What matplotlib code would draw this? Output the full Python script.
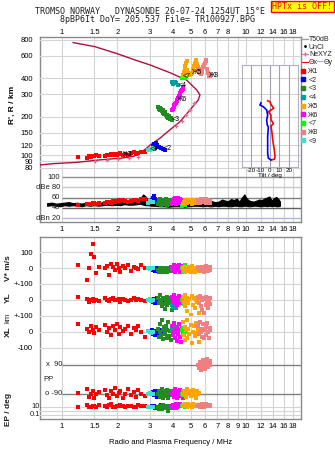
import matplotlib
matplotlib.use("Agg")
import matplotlib.pyplot as plt
import matplotlib.transforms as mtransforms
from matplotlib.lines import Line2D

plt.rcParams['font.family'] = ['Liberation Sans', 'DejaVu Sans']
plt.rcParams['font.size'] = 5.5
plt.rcParams['text.color'] = '#202020'

# ---------------- data ----------------
top_ticks = [1, 1.5, 2, 3, 4, 5, 6, 7, 8, 10, 12, 14, 16, 18]
bot_ticks = [1, 1.5, 2, 3, 4, 5, 6, 7, 8, 9, 10, 12, 14, 16, 18]
height_ticks = [80, 90, 100, 120, 150, 200, 300, 400, 600, 800]

# electron density profile (plasma frequency vs real height)
ne_f = [0.76, 0.90, 1.20, 1.60, 2.10, 2.45, 2.65, 2.85, 3.01, 3.41, 3.86, 4.38,
        4.96, 5.50, 5.62, 5.40, 4.76, 3.86, 3.01, 2.49, 2.02, 1.51, 1.15]
ne_h = [84, 86, 88, 92, 95, 98, 104, 112, 120, 136, 158, 183,
        226, 270, 296, 324, 387, 442, 508, 556, 619, 706, 760]
nx_f = [1.51, 1.75, 2.02, 2.32, 2.60, 4.17, 4.47, 4.72, 4.96, 5.20]
nx_h = [91, 92, 94, 96, 97, 169, 186, 206, 226, 255]

# tilt inset
tilt_h_x = [92, 93, 97, 110, 132, 153, 170, 176, 180, 190, 206, 219, 233, 250, 262, 267]
tilt_x = [1.0, 4.6, 5.4, 4.6, 2.9, 2.0, 1.0, 3.6, 3.0, 1.0, 1.0, -1.8, 4.0, 1.0, 0.0, -2.5]
tilt_h_y = [92, 95, 104, 140, 167, 172, 188, 206, 226, 240, 247, 257]
tilt_y = [1.0, -1.8, -2.5, -2.5, -1.8, -2.9, -3.6, -2.5, -3.6, -7.2, -10.8, -9.7]

# noise floor (dB)
nf = [0.83, 0.88, 0.93, 0.98, 1.03, 1.09, 1.15, 1.21, 1.28, 1.35,
      1.42, 1.50, 1.58, 1.67, 1.76, 1.86, 1.96, 2.07, 2.18, 2.30,
      2.43, 2.56, 2.66, 2.76, 2.85, 2.95, 3.05, 3.20, 3.40, 3.60,
      3.80, 4.00, 4.30, 4.60, 4.90, 5.20, 5.50, 5.80, 6.10, 6.30,
      6.50, 6.80, 7.10, 7.40, 7.70, 8.00, 8.30, 8.60, 8.90, 9.20,
      9.50, 9.80, 10.0, 10.3, 10.6, 11.0, 11.4, 11.8, 12.2, 12.6,
      13.0, 13.4, 13.8, 14.2, 14.6, 15.0, 15.3]
nlo = [44, 45, 44, 43, 45, 44, 45, 44, 43, 45,
       44, 45, 44, 45, 46, 45, 46, 45, 47, 46,
       46, 47, 48, 46, 45, 45, 44, 44, 43, 43,
       42, 43, 43, 42, 43, 44, 44, 43, 44, 43,
       43, 44, 43, 44, 44, 43, 43, 44, 44, 43,
       43, 44, 44, 43, 43, 44, 44, 43, 43, 44,
       43, 44, 43, 44, 43, 43, 44]
nhi = [49, 50, 48, 49, 50, 51, 49, 50, 48, 50,
       51, 50, 49, 51, 52, 50, 53, 51, 54, 52,
       53, 55, 58, 66, 62, 52, 55, 50, 51, 52,
       53, 52, 50, 51, 50, 49, 51, 50, 52, 55,
       53, 51, 52, 56, 54, 53, 57, 55, 58, 52,
       60, 66, 60, 55, 53, 52, 54, 56, 55, 58,
       60, 62, 54, 59, 61, 57, 52]

# echo classes: freq, height, amplitude, V*, YL, XL, PP, EP
f1 = [1.23, 1.37, 1.40, 1.44, 1.48, 1.50, 1.53, 1.58, 1.72, 1.76, 1.80, 1.85, 1.90,
      1.95, 2.00, 2.04, 2.08, 2.14, 2.20, 2.28, 2.38, 2.45, 2.52, 2.60, 2.70, 2.82]
h1 = [97, 96, 98, 97, 99, 98, 100, 99, 99, 101, 100, 102, 101,
      103, 100, 102, 104, 101, 103, 100, 104, 106, 103, 105, 107, 106]
a1 = [46, 47, 48, 47, 49, 50, 48, 49, 50, 51, 52, 50, 53,
      52, 54, 55, 53, 56, 54, 52, 53, 55, 56, 54, 57, 58]
v1 = [20, -75, 5, 90, 150, 70, -30, 10, 0, 15, -40, 25, 10,
      -10, 30, 5, -25, 15, 0, 20, -15, 10, 5, -5, 20, 0]
yl1 = [17, 5, -10, 0, 8, -5, 3, -8, 10, 0, -5, 5, 12,
       -3, 0, 8, -10, 5, 0, -5, 3, 10, -2, 5, 0, -8]
xl1 = [48, 20, 0, 35, 10, -5, 30, 15, 45, 0, 25, -20, 35,
       10, 50, -10, 30, 5, 20, 40, -15, 25, 10, 35, 0, -30]
pp1 = [-85, -60, -110, -90, -70, -120, -95, -80, -65, -100, -115, -75, -90,
       -55, -105, -85, -70, -120, -95, -60, -100, -80, -110, -65, -90, -105]
ep1 = [10, 30, 8, 12, 15, 20, 10, 40, 15, 9, 25, 50, 12,
       10, 14, 18, 30, 14, 10, 16, 20, 9, 12, 35, 16, 22]

f2 = [3.08, 3.12, 3.16, 3.20, 3.25, 3.30, 3.38, 3.45, 3.55, 3.65]
h2 = [112, 118, 122, 115, 125, 120, 116, 114, 112, 110]
a2 = [55, 60, 62, 58, 54, 56, 52, 50, 48, 47]
v2 = [0, -10, 5, -15, -5, 0, -20, -10, -5, 0]
yl2 = [0, -15, 5, -20, -10, 10, -5, 0, -15, 5]
xl2 = [10, -15, 0, -20, 5, -10, 15, 0, -5, 10]
pp2 = [-90, -80, -100, -70, -95, -110, -85, -90, -75, -100]
ep2 = [15, 8, 20, 5, 10, 12, 6, 25, 9, 7]

f9 = [2.92, 3.00, 3.06, 3.12]
h9 = [109, 110, 112, 114]
a9 = [50, 54, 52, 51]
v9 = [0, -5, 5, 0]
yl9 = [0, 5, -5, 0]
xl9 = [5, 0, -5, 0]
pp9 = [-90, -85, -95, -90]
ep9 = [10, 8, 12, 10]

f3 = [3.32, 3.36, 3.40, 3.42, 3.46, 3.50, 3.52, 3.56, 3.60,
      3.62, 3.66, 3.70, 3.74, 3.78, 3.82, 3.86, 3.90, 3.95]
h3 = [240, 232, 236, 225, 228, 220, 226, 215, 210,
      218, 205, 208, 200, 196, 202, 192, 197, 190]
a3 = [48, 55, 50, 58, 46, 52, 56, 49, 54, 47, 57, 51, 45, 53, 50, 56, 48, 52]
v3 = [-10, -20, 0, -15, -25, -5, -10, -20, 5, -15, -10, 0, -20, -5, -15, -10, 10, -5]
yl3 = [10, -20, 30, -10, 0, -40, 15, -25, 5, -55, -10, 20, -30, 0, -15, 10, -20, -60]
xl3 = [20, -30, 50, 0, -20, 75, -45, 10, 30, -10, 40, -35, 15, 60, -25, 5, -50, 25]
pp3 = [-90, -70, -110, -80, -100, -60, -95, -120, -85, -75, -105, -90, -65, -115, -80, -100, -70, -95]
ep3 = [10, 4, 20, 8, 15, 3, 12, 30, 6, 10, 5, 18, 9, 1, 7, 14, 11, 6]

f4 = [3.95, 4.02, 4.10, 4.18, 4.28]
h4 = [372, 360, 376, 365, 352]
a4 = [50, 54, 52, 48, 55]
v4 = [5, -10, 0, 15, -5]
yl4 = [-30, -45, -35, -50, -20]
xl4 = [10, -20, 30, 0, -10]
pp4 = [-90, -80, -100, -85, -95]
ep4 = [10, 8, 12, 6, 15]

f6 = [3.96, 4.00, 4.04, 4.08, 4.12, 4.16, 4.20, 4.24,
      4.28, 4.32, 4.36, 4.40, 4.44, 4.48, 4.52, 4.56]
h6 = [226, 232, 240, 246, 252, 258, 266, 272, 280, 290, 298, 306, 316, 324, 332, 342]
a6 = [50, 55, 58, 52, 60, 48, 56, 53, 59, 50, 54, 57, 49, 52, 55, 47]
v6 = [10, -15, 20, 0, -25, 5, 15, -10, 0, 20, -20, 10, -5, 15, -15, 5]
yl6 = [20, -10, 30, 0, -25, 10, -30, 15, -5, 25, -15, 5, -20, 10, 0, -10]
xl6 = [40, -20, 55, 0, -40, 20, -55, 30, -10, 50, -30, 10, -60, 25, -5, 15]
pp6 = [-90, -70, -110, -85, -60, -100, -80, -120, -90, -75, -95, -65, -105, -85, -115, -90]
ep6 = [20, 40, 10, 30, 15, 50, 25, 12, 35, 18, 45, 22, 14, 28, 16, 30]

f7 = [4.48, 4.52, 4.56, 4.60, 4.64]
h7 = [405, 415, 425, 435, 400]
a7 = [44, 46, 45, 47, 45]
v7 = [0, -20, 10, -10, 20]
yl7 = [0, -15, 10, -25, 5]
xl7 = [10, -20, 25, -10, 0]
pp7 = [-90, -75, -100, -85, -95]
ep7 = [20, 30, 15, 25, 12]

f5 = [4.55, 4.60, 4.64, 4.68, 4.72, 4.76, 4.80, 4.86, 4.92,
      5.00, 5.10, 5.18, 5.24, 5.30, 5.36, 5.42, 5.48, 5.54]
h5 = [420, 445, 470, 500, 530, 550, 460, 440, 425,
      430, 440, 470, 500, 530, 560, 520, 490, 450]
a5 = [48, 52, 55, 50, 53, 56, 49, 54, 51, 55, 48, 52, 56, 50, 54, 49, 53, 51]
v5 = [0, -10, 10, -20, 5, -15, 0, 10, -5, -20, 15, -10, 0, -25, 5, -15, 10, -5]
yl5 = [20, -10, 30, -40, 0, -70, 15, -20, 5, -95, 25, -30, 10, -50, 0, -15, 20, -80]
xl5 = [60, -20, 30, -50, 10, 75, -40, 20, -10, 45, -70, 0, 35, -25, 55, -5, 15, -60]
pp5 = [-90, -70, -100, -80, -110, -60, -95, -85, -75, -105, -90, -65, -100, -80, -115, -70, -95, -85]
ep5 = [30, 15, 50, 20, 40, 10, 25, 60, 18, 35, 12, 45, 22, 30, 14, 40, 20, 28]

f8 = [5.50, 5.56, 5.62, 5.68, 5.74, 5.80, 5.86, 5.92,
      5.98, 6.04, 6.10, 6.16, 6.22, 6.28, 6.34, 6.40]
h8 = [470, 455, 440, 430, 450, 470, 490, 510, 530, 545, 560, 470, 440, 420, 415, 430]
a8 = [52, 55, 50, 57, 53, 58, 51, 56, 54, 50, 57, 53, 55, 52, 49, 54]
v8 = [0, -10, 5, -15, 10, -5, 0, -20, 5, -10, 15, -5, -15, 0, 10, -10]
yl8 = [10, -20, 25, -40, 0, -60, 15, -80, 5, -30, 20, -10, -50, 0, -25, 10]
xl8 = [40, -10, 60, 0, -30, 20, 50, -40, 10, 30, -20, 55, 0, -35, 25, 15]
pp8 = [90, 70, 110, 60, 100, 80, 120, 95, 65, 105, 85, 130, 75, 100, 90, 115]
ep8 = [20, 40, 10, 30, 15, 50, 25, 12, 35, 18, 45, 22, 14, 28, 16, 30]

class_names = ['Ж1', '<2', '<3', '<4', 'Ж5', 'Ж6', '<7', 'Ж8', '<9']
class_colors = ['#ff0000', '#0000ff', '#228b22', '#00a0a0', '#ffa500',
                '#ff00ff', '#00ff00', '#f08080', '#40e0d0']

# ---------------- figure ----------------
W, H = 335, 451
fig = plt.figure(figsize=(W / 100, H / 100), dpi=100)


def rect(x0, y0, x1, y1):
    return [x0 / W, 1 - y1 / H, (x1 - x0) / W, (y1 - y0) / H]


def lin_lims(va, pa, vb, pb, top, bot):
    s = (vb - va) / (pb - pa)
    return va + s * (bot - pa), va + s * (top - pa)


XL0, XL1 = 0.76, 19.9
GRID = '#d4d4d4'
SPINE = '#8a8a8a'


def frame(ax):
    ax.set_xscale('log')
    ax.set_xlim(XL0, XL1)
    ax.set_yticks([])
    ax.xaxis.set_minor_locator(matplotlib.ticker.NullLocator())
    ax.set_xticks(bot_ticks)
    ax.set_xticklabels([str(t) for t in bot_ticks])
    ax.tick_params(axis='x', length=0, pad=3, labelsize=5.5)
    for t in bot_ticks:
        ax.axvline(t, color=GRID, lw=0.8, zorder=0)
    for s in ax.spines.values():
        s.set_color(SPINE)
        s.set_linewidth(1)


# top frame (ionogram + amplitude)
ax_top = fig.add_axes(rect(40, 37, 301, 222))
frame(ax_top)

ax_ion = fig.add_axes(rect(40, 37, 301, 172), label='ion')
ax_ion.set_facecolor('none')
ax_ion.set_xscale('log')
ax_ion.set_yscale('log')
ax_ion.set_xlim(XL0, XL1)
ax_ion.set_ylim(74, 840)
for s in ax_ion.spines.values():
    s.set_visible(False)
ax_ion.xaxis.tick_top()
ax_ion.set_xticks(top_ticks)
ax_ion.set_xticklabels([str(t) for t in top_ticks])
ax_ion.xaxis.set_minor_locator(matplotlib.ticker.NullLocator())
ax_ion.yaxis.set_minor_locator(matplotlib.ticker.NullLocator())
ax_ion.set_yticks(height_ticks)
ax_ion.set_yticklabels([str(t) for t in height_ticks])
ax_ion.tick_params(length=0, labelsize=5.5)
ax_ion.tick_params(axis='x', pad=1)
ax_ion.tick_params(axis='y', pad=5)
for t in height_ticks:
    ax_ion.axhline(t, color=GRID, lw=0.8, zorder=0)
ax_ion.set_ylabel("R', R / km", fontweight='bold', fontsize=6, labelpad=3)

ax_ion.plot(ne_f, ne_h, color='#b0103c', lw=1.0, zorder=3)
ax_ion.plot(nx_f, nx_h, '+', color='#e0709a', ms=3.5, mew=0.9, zorder=3)

ax_dbe = fig.add_axes(rect(40, 172, 301, 222), label='dbe', sharex=ax_ion)
ax_dbe.set_facecolor('none')
ax_dbe.set_ylim(12.2, 109.8)
ax_dbe.axis('off')
for lvl, col in [(100, '#909090'), (80, '#c8c8c8'), (60, '#808080'), (40, '#606060'), (20, '#b4b4e6')]:
    ax_dbe.hlines(lvl, 1, XL1, color=col, lw=1, zorder=1)
for lvl, txt in [(100, '100'), (80, 'dBe 80'), (60, '60'), (40, '40'), (20, 'dBn 20')]:
    ax_dbe.text(0.975, lvl, txt, ha='right', va='center', fontsize=5.5)
ax_dbe.fill_between(nf, nlo, nhi, color='black', lw=0.8, edgecolor='black', zorder=2)

# bottom frame (Doppler / location / polarisation)
ax_bot = fig.add_axes(rect(40, 237, 301, 419), label='bot')
frame(ax_bot)
ax_bot.set_xlabel('Radio and Plasma Frequency / MHz', fontsize=5.5, labelpad=6)

BT, BB = 237, 419


def band(lims, name, log=False):
    a = fig.add_axes(rect(40, BT, 301, BB), label=name, sharex=ax_bot)
    a.set_facecolor('none')
    for s in a.spines.values():
        s.set_visible(False)
    if log:
        a.set_yscale('log')
        a.yaxis.set_minor_locator(matplotlib.ticker.NullLocator())
    a.set_ylim(*lims)
    a.tick_params(axis='x', bottom=False, labelbottom=False)
    a.tick_params(axis='y', length=0, pad=5, labelsize=5.5)
    return a


ax_v = band(lin_lims(0, 268.3, 100, 252.3, BT, BB), 'v')
ax_v.set_yticks([100, 0])
ax_v.set_yticklabels(['100', '0'])
ax_yl = band(lin_lims(0, 300, 100, 284, BT, BB), 'yl')
ax_yl.set_yticks([100, 0])
ax_yl.set_yticklabels(['+-100', '0'])
ax_xl = band(lin_lims(0, 332, 100, 316, BT, BB), 'xl')
ax_xl.set_yticks([100, 0, -100])
ax_xl.set_yticklabels(['+-100', '0', '-100'])
ax_pp = band(lin_lims(-90, 393.7, 90, 365, BT, BB), 'pp')
ax_pp.set_yticks([])
lo, hi = lin_lims(1, 407, -1, 414.7, BT, BB)
ax_ep = band((10 ** lo, 10 ** hi), 'ep', log=True)
ax_ep.set_yticks([])

for lvl in [100, 0, -100]:
    ax_v.axhline(lvl, color=GRID, lw=0.8, zorder=0)
    ax_xl.axhline(lvl, color=GRID, lw=0.8, zorder=0)
ax_yl.axhline(0, color=GRID, lw=0.8, zorder=0)
for lvl in [10, 1, 0.1]:
    ax_ep.axhline(lvl, color=GRID, lw=0.8, zorder=0)
ax_pp.hlines([90, -90], 1, XL1, color='#808080', lw=1, zorder=0)

tr = mtransforms.blended_transform_factory(ax_pp.transAxes, ax_pp.transData)
ax_pp.text(0.085, 90, 'x  90', transform=tr, ha='right', va='center', fontsize=5.5)
ax_pp.text(0.085, -90, 'o -90', transform=tr, ha='right', va='center', fontsize=5.5)
ax_pp.text(0.012, 0, 'PP', transform=tr, ha='left', va='center', fontsize=5.5)
tr = mtransforms.blended_transform_factory(ax_ep.transAxes, ax_ep.transData)
ax_ep.text(0.008, 10, '10.', transform=tr, ha='right', va='center', fontsize=5.5)
ax_ep.text(0.0, 0.1, '0.1', transform=tr, ha='right', va='center', fontsize=5.5)

fig.text(8 / W, 1 - 268 / H, 'V* m/s', rotation=90, ha='center', va='center', fontsize=6, fontweight='bold')
fig.text(8 / W, 1 - 298 / H, 'YL', rotation=90, ha='center', va='center', fontsize=6, fontweight='bold')
fig.text(8 / W, 1 - 318 / H, 'km', rotation=90, ha='center', va='center', fontsize=5.5)
fig.text(8 / W, 1 - 332 / H, 'XL', rotation=90, ha='center', va='center', fontsize=6, fontweight='bold')
fig.text(8 / W, 1 - 409 / H, 'EP / deg', rotation=90, ha='center', va='center', fontsize=6, fontweight='bold')

# echoes
classes = [
    (f1, h1, a1, v1, yl1, xl1, pp1, ep1, 0, 17),
    (f2, h2, a2, v2, yl2, xl2, pp2, ep2, 1, 8),
    (f9, h9, a9, v9, yl9, xl9, pp9, ep9, 8, 1),
    (f3, h3, a3, v3, yl3, xl3, pp3, ep3, 2, 17),
    (f4, h4, a4, v4, yl4, xl4, pp4, ep4, 3, 4),
    (f6, h6, a6, v6, yl6, xl6, pp6, ep6, 5, 7),
    (f7, h7, a7, v7, yl7, xl7, pp7, ep7, 6, 1),
    (f5, h5, a5, v5, yl5, xl5, pp5, ep5, 4, 10),
    (f8, h8, a8, v8, yl8, xl8, pp8, ep8, 7, 13),
]
for f, h, a, v, yl, xl, pp, ep, k, li in classes:
    c = class_colors[k]
    ax_ion.plot(f, h, 's', color=c, ms=2.4, mew=0, zorder=4)
    ax_dbe.plot(f, a, 's', color=c, ms=2.8, mew=0, zorder=3)
    for axb, vals in [(ax_v, v), (ax_yl, yl), (ax_xl, xl), (ax_pp, pp), (ax_ep, ep)]:
        axb.plot(f, vals, 's', color=c, ms=2.2, mew=0, zorder=3)
    ax_ion.text(f[li], h[li], class_names[k], fontsize=5, color='black',
                ha='left', va='center', zorder=5)
ax_ion.plot(f9, h9, color=class_colors[8], lw=1, zorder=4)

# tilt inset
ax_t = fig.add_axes(rect(242, 65, 298, 167), label='tilt')
ax_t.set_facecolor('white')
ax_t.set_yscale('log')
ax_t.set_ylim(81, 508)
ax_t.set_xlim(-30, 30)
ax_t.set_yticks([])
ax_t.yaxis.set_minor_locator(matplotlib.ticker.NullLocator())
for t in height_ticks:
    ax_t.axhline(t, color=GRID, lw=0.8, zorder=0)
for t in [-20, -10, 0, 10, 20]:
    ax_t.axvline(t, color='#a0a0b0', lw=0.8, zorder=0)
ax_t.set_xticks([-20, -10, 0, 10, 20])
ax_t.set_xticklabels(['-20', '-10', '0', '10', '20'])
ax_t.tick_params(length=0, labelsize=4.5, pad=1)
ax_t.set_xlabel('Tilt / deg', fontsize=4.5, labelpad=0)
for s in ax_t.spines.values():
    s.set_color('#b0b0c0')
ax_t.plot(tilt_x, tilt_h_x, color='#ff0000', lw=1.2)
ax_t.plot(tilt_y, tilt_h_y, color='#0000ff', lw=1.2)

# legends
h_top = [Line2D([], [], color='#a0a0a0', lw=1),
         Line2D([], [], color='black', marker='.', ms=2, ls='none'),
         Line2D([], [], color='#e0709a', marker='+', ms=3, lw=0.8),
         Line2D([], [], color='#ff0000', lw=0.8)]
fig.legend(h_top, ['T50dB', 'UnCl', 'NeXYZ', 'Θx'], loc='upper left',
           bbox_to_anchor=(302 / W, 1 - 36 / H), frameon=False, fontsize=5,
           handlelength=0.8, handletextpad=0.2, labelspacing=0.1, borderpad=0,
           borderaxespad=0)
fig.text(320.5 / W, 1 - 61.5 / H, '—', color='#0000ff', fontsize=4.5, ha='center', va='center')
fig.text(324 / W, 1 - 62 / H, 'Θy', fontsize=5, ha='left', va='center')
h_cls = [Line2D([], [], color=c, marker='s', ms=2.5, ls='none') for c in class_colors]
fig.legend(h_cls, class_names, loc='upper left', bbox_to_anchor=(300 / W, 1 - 68 / H),
           frameon=False, fontsize=5, handlelength=1.0, handletextpad=0.2,
           labelspacing=0.25, borderpad=0, borderaxespad=0)

# title block
fig.text(150 / W, 1 - 12 / H, 'TROMSO NORWAY   DYNASONDE 26-07-24 1254UT 15°E',
         family='DejaVu Sans Mono', fontsize=6, ha='center', va='center')
fig.text(157 / W, 1 - 19.7 / H, '8pBP6It DoY= 205.537 File= TR100927.BPG',
         family='DejaVu Sans Mono', fontsize=6, ha='center', va='center')
fig.text(302.5 / W, 1 - 6.5 / H, 'HPTx is OFF!', family='DejaVu Sans Mono', fontsize=6,
         color='red', ha='center', va='center',
         bbox=dict(boxstyle='square,pad=0.15', facecolor='yellow', edgecolor='red', lw=1))

fig.savefig('out.png', dpi=100)
